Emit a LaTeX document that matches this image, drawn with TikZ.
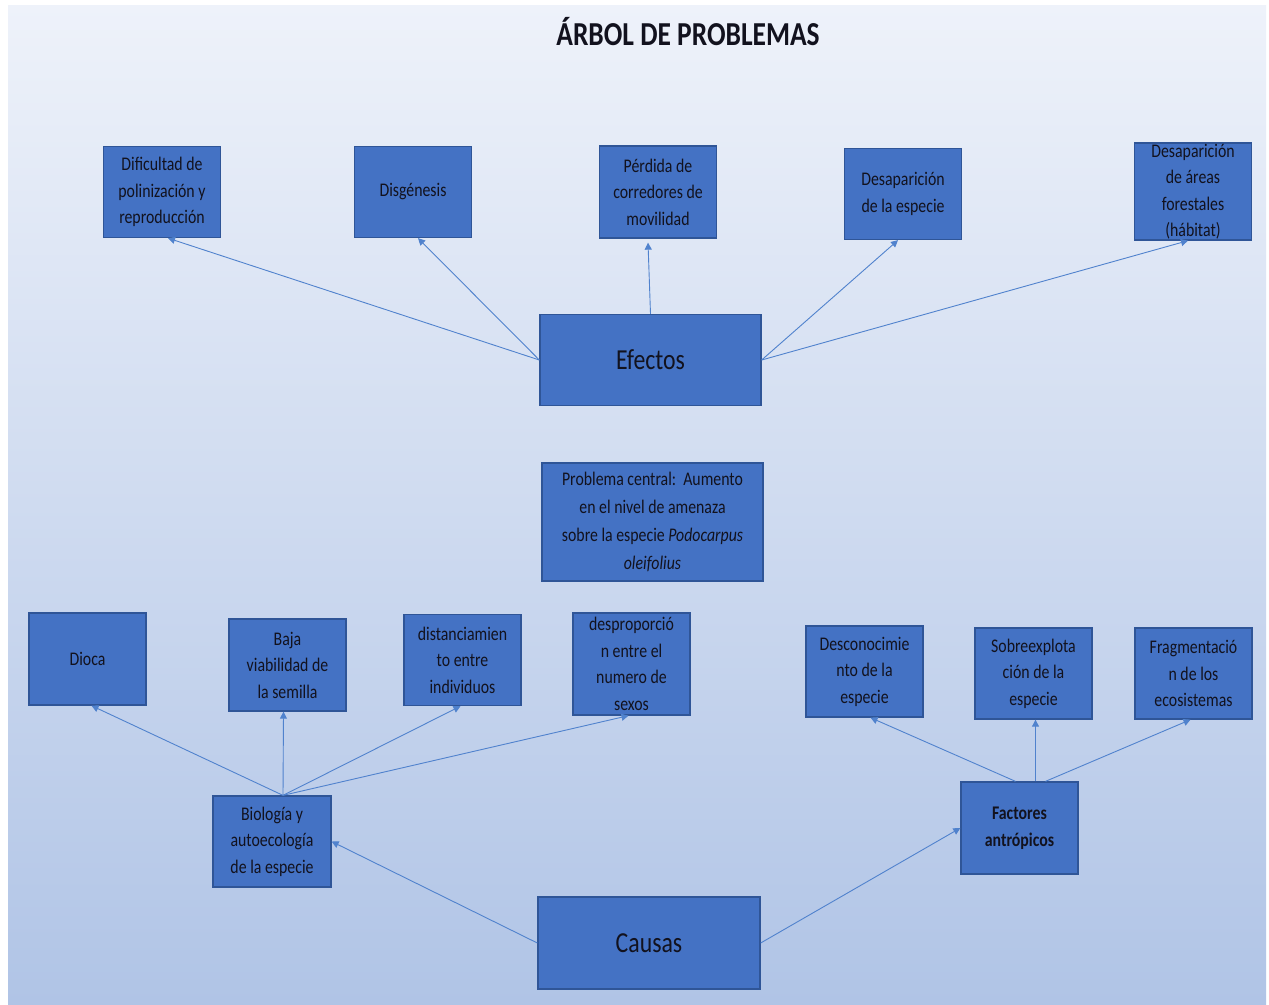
\documentclass[tikz,border=0pt]{standalone}
\usepackage{fontspec}
\setmainfont{Carlito}[FakeStretch=0.82]
\usetikzlibrary{arrows.meta}
\definecolor{bgtop}{RGB}{238,242,250}
\definecolor{bgbot}{RGB}{176,196,230}
\definecolor{boxfill}{RGB}{68,114,196}
\definecolor{boxline}{RGB}{47,85,151}
\definecolor{txtc}{RGB}{18,18,30}
\definecolor{arrc}{RGB}{80,130,205}
\tikzset{
  cbox/.style={draw=boxline, fill=boxfill, line width=1.3pt, inner sep=0pt},
  ctxt/.style={align=center, inner sep=0pt, text=txtc, font=\fontsize{19.3}{26.5}\selectfont},
  bigtxt/.style={align=center, inner sep=0pt, text=txtc, font=\fontsize{29}{32}\selectfont},
  conn/.style={draw=arrc, line width=0.9pt, -{Triangle[width=7pt,length=7pt]}}
}
\newcommand\bx[7][ctxt]{%
  \node[cbox, minimum width=#5, minimum height=#6] (#2) at (#3,#4) {};
  \node[#1] (#2-t) at (#2.center) {#7};
}
\begin{document}
\begin{tikzpicture}[x=1pt,y=-1pt]
\path[fill=white,use as bounding box] (0,0) rectangle (1269,1004);
\shade[top color=bgtop, bottom color=bgbot] (8,5) rectangle (1266,1004);
\node[text=txtc, font=\bfseries\fontsize{33.5}{40}\selectfont, inner sep=0pt] (title) at (688,32) {ÁRBOL DE PROBLEMAS};
% effects
\bx{dif}{162}{192}{117}{91}{Dificultad de\\polinización y\\reproducción}
\bx{dis}{413}{192}{117}{91}{Disgénesis}
\bx{per}{658}{192}{117}{92}{Pérdida de\\corredores de\\movilidad}
\bx{des}{903}{194}{117}{91}{Desaparición\\de la especie}
\bx{are}{1193}{191.5}{117}{97}{Desaparición\\de áreas\\forestales\\(hábitat)}
\bx[bigtxt]{efe}{650.5}{360}{221}{91}{Efectos}
% central
\bx[ctxt,font=\fontsize{19.3}{28}\selectfont]{cen}{652.5}{522}{221}{118}{Problema central:\ \ Aumento\\en el nivel de amenaza\\sobre la especie \textit{Podocarpus}\\\textit{oleifolius}}
% causes level 2
\bx{dio}{87.5}{659}{117}{92}{Dioca}
\bx{baj}{287.5}{665}{117}{92}{Baja\\viabilidad de\\la semilla}
\bx{dst}{462.5}{660}{117}{91}{distanciamien\\to entre\\individuos}
\bx{dpr}{631.5}{664}{117}{102}{desproporció\\n entre el\\numero de\\sexos}
\bx{dsc}{864.5}{671.5}{117}{91}{Desconocimie\\nto de la\\especie}
\bx{sob}{1033.5}{673.5}{117}{91}{Sobreexplota\\ción de la\\especie}
\bx{fra}{1193.5}{673.5}{117}{91}{Fragmentació\\n de los\\ecosistemas}
% causes level 1
\bx{bio}{272}{841.5}{118}{91}{Biología y\\autoecología\\de la especie}
\bx{fac}{1019.5}{828}{117}{92}{\textbf{Factores}\\\textbf{antrópicos}}
\bx[bigtxt]{cau}{649}{943}{222}{92}{Causas}
% connectors effects
\draw[conn] (efe.west) -- ([xshift=6pt]dif.south);
\draw[conn] (efe.west) -- ([xshift=5pt]dis.south);
\draw[conn] (efe.north) -- ([xshift=-10pt,yshift=-4pt]per.south);
\draw[conn] (efe.east) -- ([xshift=-5pt]des.south);
\draw[conn] (efe.east) -- ([xshift=-5pt]are.south);
% connectors biology
\draw[conn] ([xshift=11pt]bio.north) -- ([xshift=4pt]dio.south);
\draw[conn] ([xshift=11pt]bio.north) -- ([xshift=-4pt]baj.south);
\draw[conn] ([xshift=11pt]bio.north) -- ([xshift=-2pt]dst.south);
\draw[conn] ([xshift=11pt]bio.north) -- ([xshift=-3pt]dpr.south);
% connectors causes
\draw[conn] (cau.west) -- (bio.east);
\draw[conn] (cau.east) -- (fac.west);
% connectors anthropic
\draw[conn] ([xshift=-4pt]fac.north) -- ([xshift=6pt]dsc.south);
\draw[conn] ([xshift=16pt]fac.north) -- ([xshift=2pt]sob.south);
\draw[conn] ([xshift=26pt]fac.north) -- ([xshift=-3pt]fra.south);
\end{tikzpicture}
\end{document}
